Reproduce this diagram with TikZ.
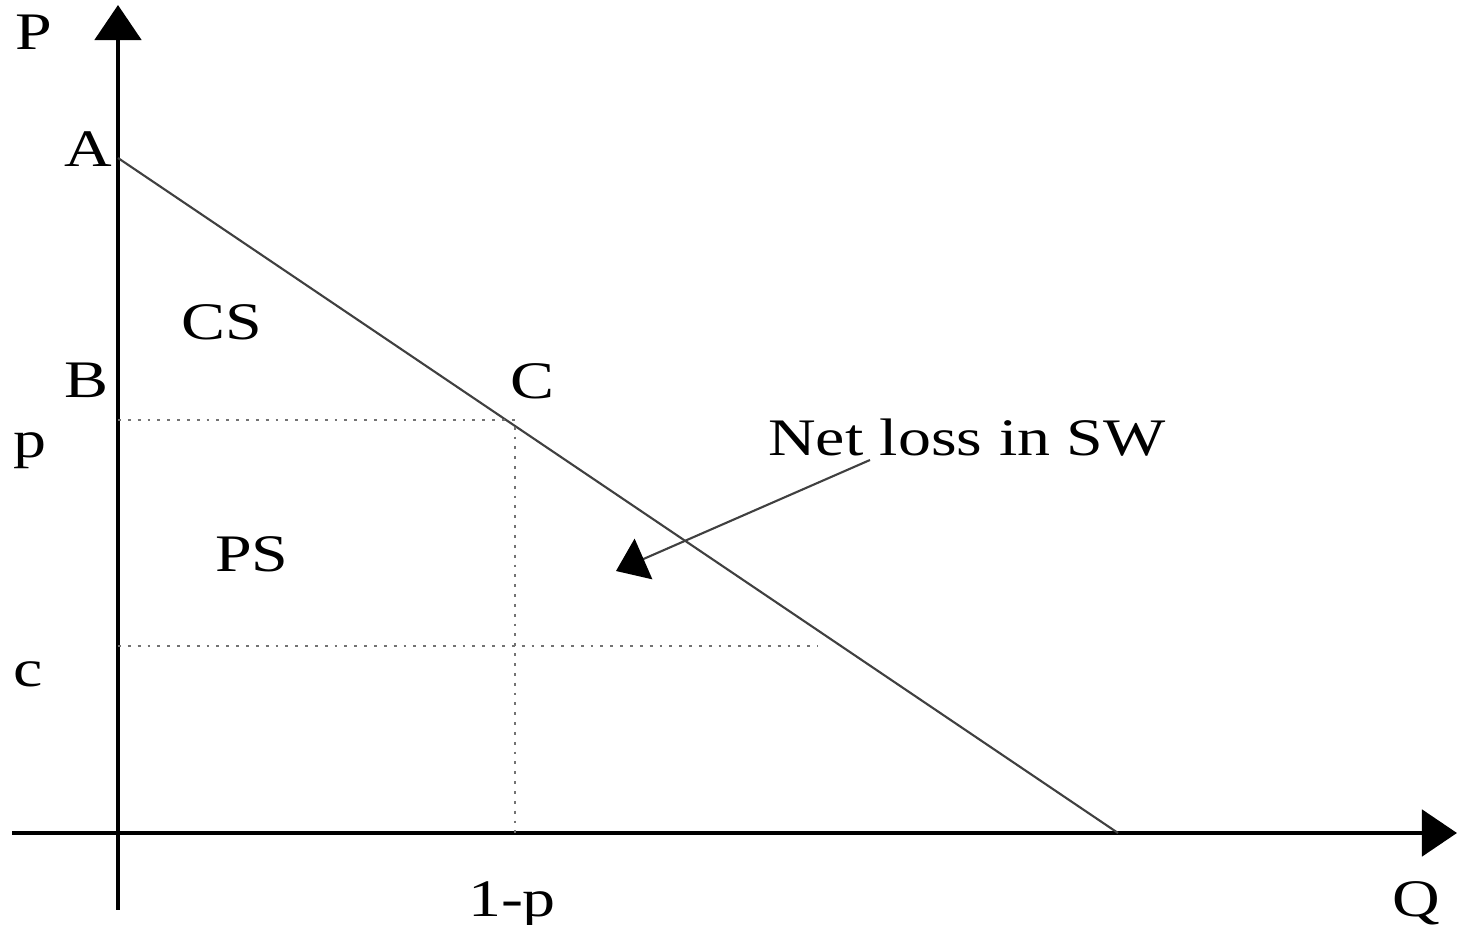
\documentclass[tikz,border=0pt]{standalone}
\usepackage{fontspec}
\setmainfont[FakeStretch=1.25]{Liberation Serif}
\usetikzlibrary{arrows.meta,positioning}

\begin{document}
\begin{tikzpicture}[x=0.01cm,y=-0.01cm, every node/.style={font=\fontsize{15}{18}\selectfont,inner sep=0pt,anchor=base}, axis/.style={line width=1.4pt,-{Triangle[length=3.5mm,width=4.6mm]}}, demand/.style={line width=0.6pt,black!75}, guide/.style={dotted,line width=0.8pt,black!55}, arr/.style={line width=0.6pt,black!75,-{Triangle[length=3mm,width=4.4mm,black]}}]
\useasboundingbox (0,0) rectangle (1457,925);
% axes
\coordinate (ybot) at (118,910); \coordinate (ytop) at (118,5);
\coordinate (xleft) at (12,833); \coordinate (xright) at (1457,833);
\draw[axis] (ybot)--(ytop);
\draw[axis] (xleft)--(xright);
% demand line and guides
\coordinate (a) at (118,158); \coordinate (qmax) at (1118,833);
\coordinate (pl) at (118,420); \coordinate (c) at (515,420); \coordinate (qp) at (515,833);
\coordinate (cl) at (118,646); \coordinate (cr) at (818,646);
\draw[demand] (a)--(qmax);
\draw[guide] (pl)--(c)--(qp);
\draw[guide] (cl)--(cr);
% labels
\node (lP) at (34,50) {P};
\node (lA) at (88,167) {A};
\node (lCS) at (222,340) {CS};
\node (lB) at (86,398) {B};
\node (lC) at (532,399) {C};
\node (lp) at (30,458) {p};
\node (lPS) at (252,572) {PS};
\node (lc) at (28,687) {c};
\node (net) at (967,456) {Net loss in SW};
\node (l1p) at (512,917) {1-p};
\node (lQ) at (1416,917) {Q};
% arrow to the loss area
\coordinate (netfoot) at (870,460); \coordinate (loss) at (616,571);
\draw[arr] (netfoot)--(loss);
\end{tikzpicture}
\end{document}
